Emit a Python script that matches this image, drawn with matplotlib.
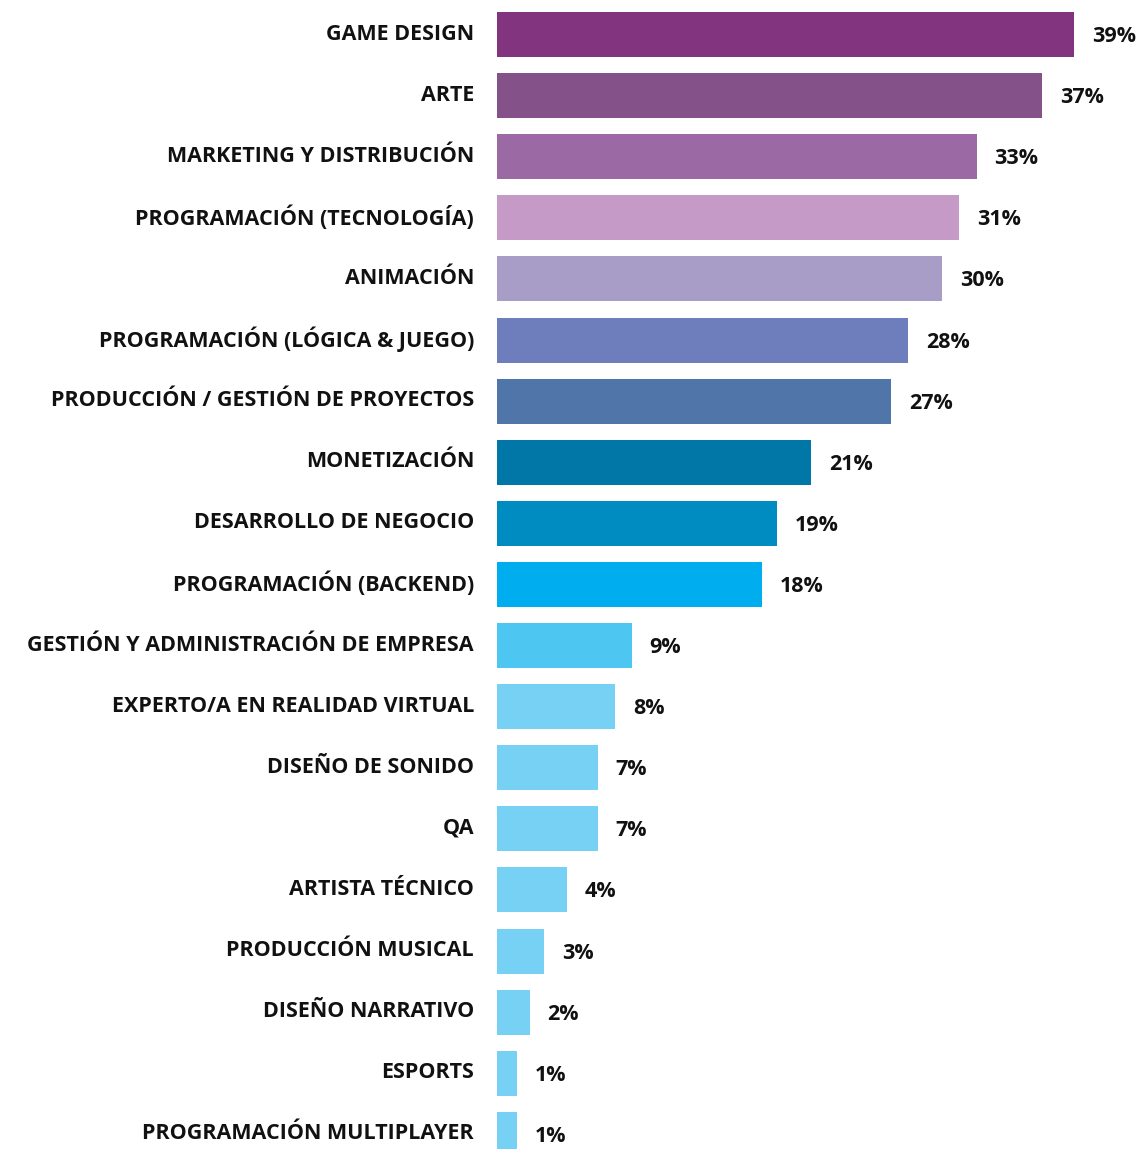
import matplotlib
matplotlib.use("Agg")
from matplotlib import pyplot as plt

categories = [
    "GAME DESIGN",
    "ARTE",
    "MARKETING Y DISTRIBUCIÓN",
    "PROGRAMACIÓN (TECNOLOGÍA)",
    "ANIMACIÓN",
    "PROGRAMACIÓN (LÓGICA & JUEGO)",
    "PRODUCCIÓN / GESTIÓN DE PROYECTOS",
    "MONETIZACIÓN",
    "DESARROLLO DE NEGOCIO",
    "PROGRAMACIÓN (BACKEND)",
    "GESTIÓN Y ADMINISTRACIÓN DE EMPRESA",
    "EXPERTO/A EN REALIDAD VIRTUAL",
    "DISEÑO DE SONIDO",
    "QA",
    "ARTISTA TÉCNICO",
    "PRODUCCIÓN MUSICAL",
    "DISEÑO NARRATIVO",
    "ESPORTS",
    "PROGRAMACIÓN MULTIPLAYER",
]
values = [39.0, 36.8, 32.4, 31.2, 30.1, 27.8, 26.6, 21.2, 18.9, 17.9,
          9.1, 8.0, 6.8, 6.8, 4.7, 3.2, 2.2, 1.35, 1.35]
value_labels = ["39%", "37%", "33%", "31%", "30%", "28%", "27%", "21%", "19%",
                "18%", "9%", "8%", "7%", "7%", "4%", "3%", "2%", "1%", "1%"]
colors = ["#82347F", "#845289", "#9B6AA5", "#C59AC7", "#A89DC6", "#6E7EBC",
          "#5075A8", "#0077A6", "#008BC1", "#00AEEF", "#4DC6F2"] + ["#77D1F5"] * 8

W, H = 1142, 1149
fig = plt.figure(figsize=(W / 100, H / 100), dpi=100)

# axes placed in pixels: bars start at x=497, 14.8 px per percent
x0 = 497
px_per_pct = 14.8
xmax = 43
ax = fig.add_axes([x0 / W, 0, xmax * px_per_pct / W, 1])

pitch = 61.1
first_center = 34.5
ax.set_ylim((H - first_center) / pitch, -first_center / pitch)
ax.set_xlim(0, xmax)

ypos = list(range(len(categories)))
ax.barh(ypos, values, height=45 / pitch, color=colors, linewidth=0)

font = "Open Sans"
for y, v, lab, cat in zip(ypos, values, value_labels, categories):
    ax.annotate(lab, (v, y), xytext=(18, -2), textcoords="offset pixels",
                ha="left", va="center", fontsize=15.5, fontweight="bold",
                family=font, color="#111111")
    ax.annotate(cat, (0, y), xytext=(-23, 0.5), textcoords="offset pixels",
                ha="right", va="center", fontsize=15.5, fontweight="bold",
                family=font, color="#111111", annotation_clip=False)

ax.axis("off")
fig.savefig("out.png", dpi=100, facecolor="white")
